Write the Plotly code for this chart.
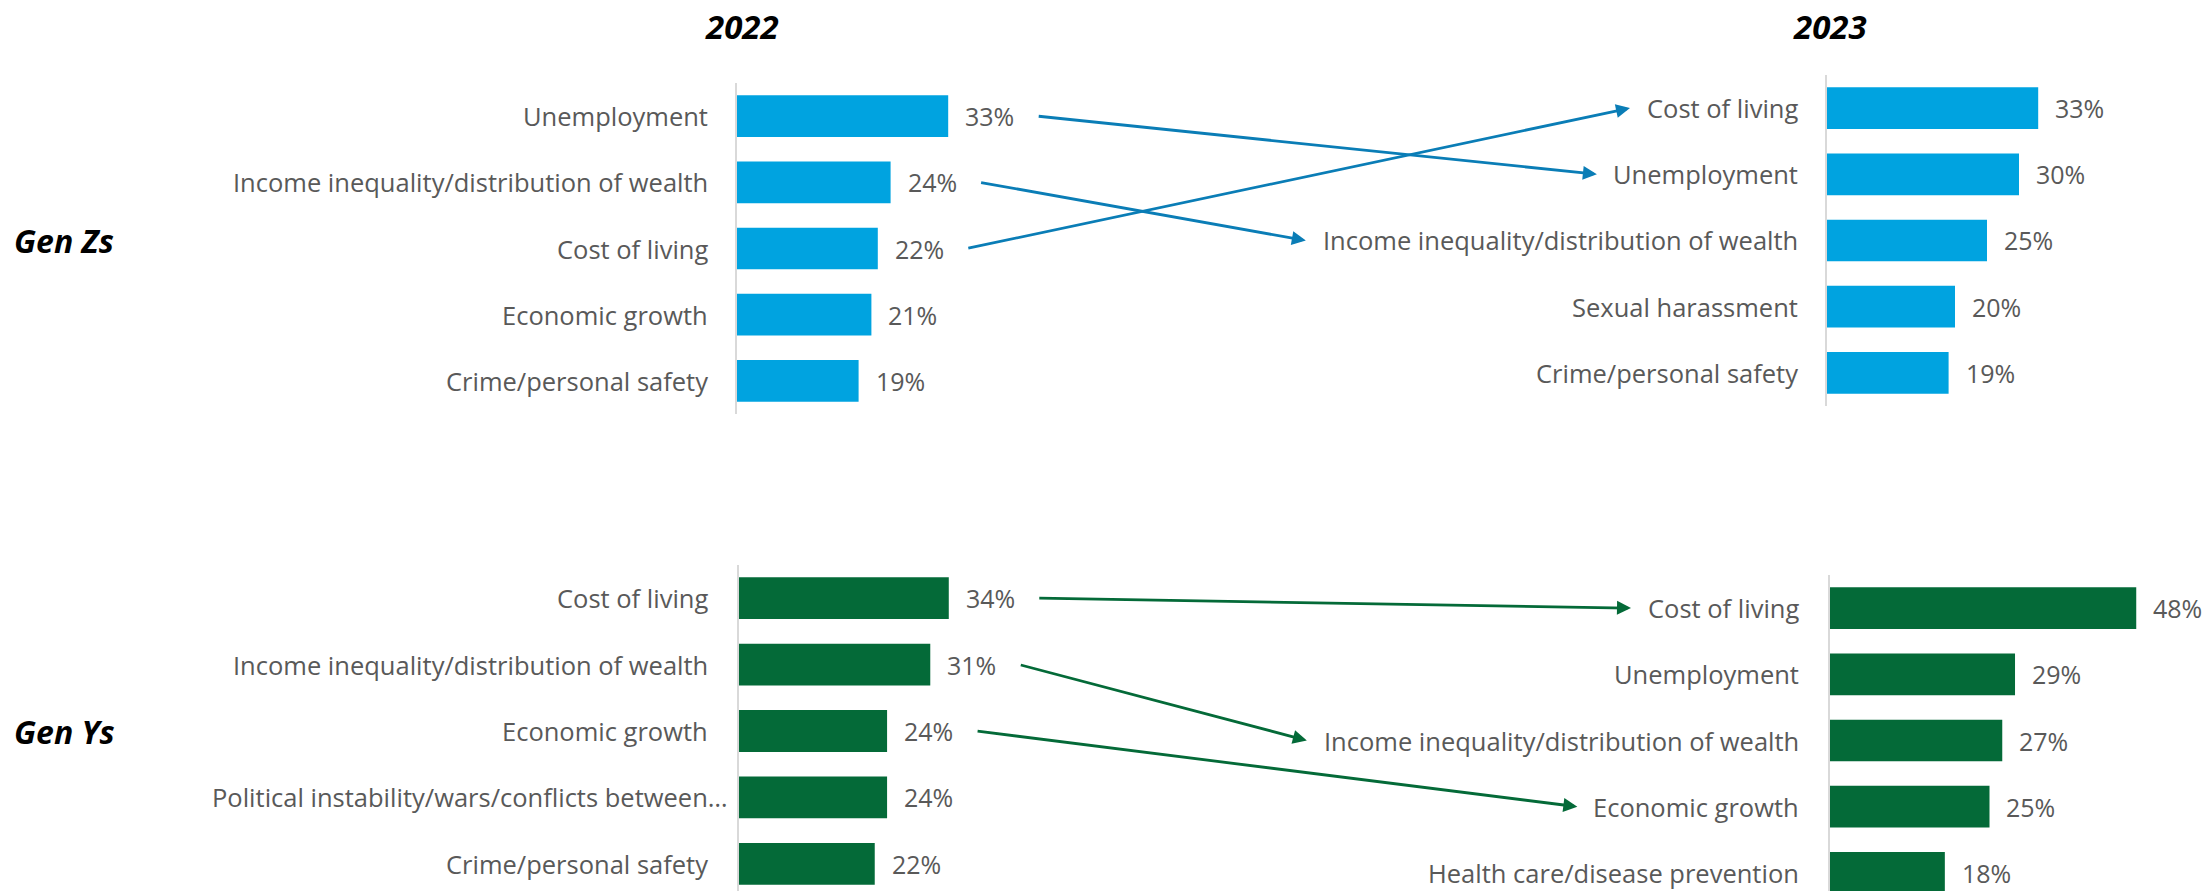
import plotly.graph_objects as go

# ---------------- data ----------------
zs_2022_labels = ["Unemployment", "Income inequality/distribution of wealth", "Cost of living",
                  "Economic growth", "Crime/personal safety"]
zs_2022_values = [33, 24, 22, 21, 19]
zs_2023_labels = ["Cost of living", "Unemployment", "Income inequality/distribution of wealth",
                  "Sexual harassment", "Crime/personal safety"]
zs_2023_values = [33, 30, 25, 20, 19]
ys_2022_labels = ["Cost of living", "Income inequality/distribution of wealth", "Economic growth",
                  "Political instability/wars/conflicts between\u2026", "Crime/personal safety"]
ys_2022_values = [34, 31, 24, 24, 22]
ys_2023_labels = ["Cost of living", "Unemployment", "Income inequality/distribution of wealth",
                  "Economic growth", "Health care/disease prevention"]
ys_2023_values = [48, 29, 27, 25, 18]
zs_moves = ["Unemployment", "Income inequality/distribution of wealth", "Cost of living"]
ys_moves = ["Cost of living", "Income inequality/distribution of wealth", "Economic growth"]
year_titles = ["2022", "2023"]
group_titles = ["Gen Zs", "Gen Ys"]

# ---------------- styling / layout constants ----------------
W, H = 2210, 891
BLUE, BLUE_ARROW = "#00A3E0", "#0A7DB6"
GREEN, GREEN_ARROW = "#046A38", "#046A38"
TXT = "#595959"
FONT = "Open Sans"
LABEL_SIZE = 25.5
VAL_SIZE = 25

# panel geometry in pixels: axis x, top, bottom, row pitch, px per %, label right edge, domain right
panels = {
    "zs22": dict(ax=737, top=83, bottom=414, pitch=66.2, scale=6.40, lab=710, right=1200),
    "zs23": dict(ax=1827, top=75, bottom=406, pitch=66.2, scale=6.40, lab=1800, right=2210),
    "ys22": dict(ax=739, top=565, bottom=891, pitch=66.4, scale=6.17, lab=710, right=1200),
    "ys23": dict(ax=1830, top=575, bottom=891, pitch=66.2, scale=6.38, lab=1801, right=2210),
}
order = [
    ("zs22", zs_2022_labels, zs_2022_values, BLUE),
    ("zs23", zs_2023_labels, zs_2023_values, BLUE),
    ("ys22", ys_2022_labels, ys_2022_values, GREEN),
    ("ys23", ys_2023_labels, ys_2023_values, GREEN),
]

# approximate Open Sans advance widths (em) for arrow placement
CW = {' ': .26, 'a': .556, 'b': .613, 'c': .48, 'd': .613, 'e': .561, 'f': .344, 'g': .546,
      'h': .613, 'i': .258, 'j': .258, 'k': .526, 'l': .258, 'm': .928, 'n': .613, 'o': .601,
      'p': .613, 'q': .613, 'r': .408, 's': .479, 't': .352, 'u': .613, 'v': .501, 'w': .774,
      'x': .53, 'y': .501, 'z': .463, '/': .37, 'I': .28, 'U': .73, 'C': .63, 'E': .55,
      'S': .55, 'H': .74, 'P': .6}


def text_w(s, size):
    return sum(CW.get(ch, .6) for ch in s) * size


def px(x):
    return x / W


def py(y):
    return 1 - y / H


fig = go.Figure()
layout_axes = {}
annotations = []

for i, (key, labels, values, color) in enumerate(order, start=1):
    p = panels[key]
    xa = "x" if i == 1 else f"x{i}"
    ya = "y" if i == 1 else f"y{i}"
    n_rows = (p["bottom"] - p["top"]) / p["pitch"]
    fig.add_trace(go.Bar(
        x=values, y=labels, orientation="h", xaxis=xa, yaxis=ya,
        marker=dict(color=color, line=dict(width=0)), width=0.63,
        hoverinfo="skip", showlegend=False))
    layout_axes["xaxis" if i == 1 else f"xaxis{i}"] = dict(
        domain=[px(p["ax"]), px(p["right"])], anchor=ya,
        range=[0, (p["right"] - p["ax"]) / p["scale"]], visible=False, fixedrange=True)
    layout_axes["yaxis" if i == 1 else f"yaxis{i}"] = dict(
        domain=[py(p["bottom"]), py(p["top"])], anchor=xa, type="category",
        categoryorder="array", categoryarray=labels,
        range=[-0.5 + n_rows, -0.5], showticklabels=False, showgrid=False, zeroline=False,
        showline=True, linecolor="#D9D9D9", linewidth=2, ticks="", fixedrange=True)
    for lab, v in zip(labels, values):
        annotations.append(dict(
            xref=xa, yref=ya, x=v, y=lab, text=f"{v}%", showarrow=False,
            xanchor="left", yanchor="middle", xshift=15,
            font=dict(family=FONT, size=VAL_SIZE, color=TXT)))
        lab_x = p["lab"] + (20 if lab.endswith("\u2026") else 0)
        annotations.append(dict(
            xref="paper", yref=ya, x=px(lab_x), y=lab, text=lab, showarrow=False,
            xanchor="right", yanchor="middle",
            font=dict(family=FONT, size=LABEL_SIZE, color=TXT)))


def row_y(key, labels, lab):
    p = panels[key]
    return p["top"] + (labels.index(lab) + 0.5) * p["pitch"]


def add_arrows(k_from, labs_from, vals_from, k_to, labs_to, moves, color):
    pf, pt = panels[k_from], panels[k_to]
    for lab in moves:
        v = vals_from[labs_from.index(lab)]
        tail_x = pf["ax"] + v * pf["scale"] + 89
        tail_y = row_y(k_from, labs_from, lab)
        head_x = pt["lab"] - text_w(lab, LABEL_SIZE) - 18
        head_y = row_y(k_to, labs_to, lab)
        annotations.append(dict(
            xref="paper", yref="paper", x=px(head_x), y=py(head_y),
            axref="pixel", ayref="pixel", ax=tail_x - head_x, ay=tail_y - head_y,
            showarrow=True, arrowhead=2, arrowsize=1.0, arrowwidth=2.8,
            arrowcolor=color, standoff=0, startstandoff=0, text=""))


add_arrows("zs22", zs_2022_labels, zs_2022_values, "zs23", zs_2023_labels, zs_moves, BLUE_ARROW)
add_arrows("ys22", ys_2022_labels, ys_2022_values, "ys23", ys_2023_labels, ys_moves, GREEN_ARROW)

# titles
for t, cx in zip(year_titles, [742, 1830]):
    annotations.append(dict(
        xref="paper", yref="paper", x=px(cx), y=py(27), text=f"<b><i>{t}</i></b>",
        showarrow=False, xanchor="center", yanchor="middle",
        font=dict(family=FONT, size=33, color="#000000")))
for t, cy in zip(group_titles, [240, 731]):
    annotations.append(dict(
        xref="paper", yref="paper", x=px(12), y=py(cy), text=f"<b><i>{t}</i></b>",
        showarrow=False, xanchor="left", yanchor="middle",
        font=dict(family=FONT, size=32, color="#000000")))

fig.update_layout(
    width=W, height=H, margin=dict(l=0, r=0, t=0, b=0),
    paper_bgcolor="white", plot_bgcolor="white",
    annotations=annotations, bargap=0.37, **layout_axes)

fig.write_html("out.html", config={"displayModeBar": False})
